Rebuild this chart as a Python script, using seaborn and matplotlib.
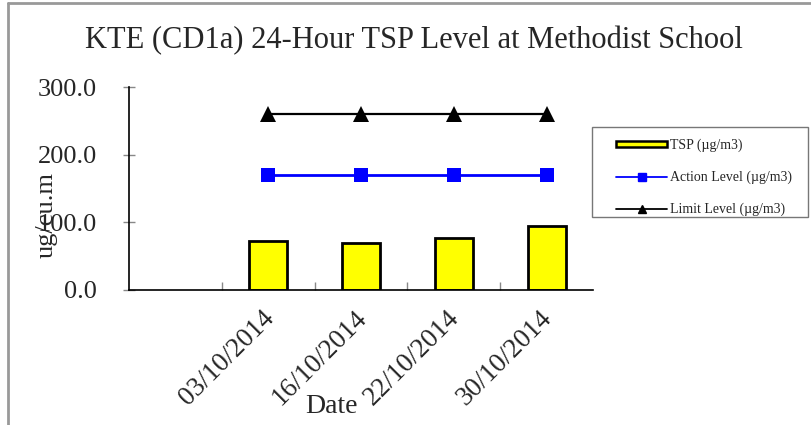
import numpy as np
import pandas as pd
import matplotlib.pyplot as plt
import matplotlib.lines as mlines
import matplotlib.patches as mpatches
import matplotlib.transforms as mtransforms
import seaborn as sns

plt.switch_backend("Agg")
sns.set_theme(style="white")
plt.rcParams["font.family"] = ["Liberation Serif", "DejaVu Serif"]

# data
dates = ["", "03/10/2014", "16/10/2014", "22/10/2014", "30/10/2014"]
tsp = [np.nan, 72.5, 70.0, 77.5, 94.5]
action_level = [np.nan, 170.3, 170.3, 170.3, 170.3]
limit_level = [np.nan, 260.0, 260.0, 260.0, 260.0]

df = pd.DataFrame({"Date": dates, "TSP": tsp,
                   "Action": action_level, "Limit": limit_level})
pos = np.arange(len(dates))

fig = plt.figure(figsize=(8.12, 4.25), dpi=100)
ax = fig.add_axes([129 / 812, 1 - 290 / 425, 464 / 812, 203 / 425])

sns.barplot(data=df, x="Date", y="TSP", order=dates, ax=ax, width=0.41,
            color="#ffff00", edgecolor="black", linewidth=2, saturation=1)
sns.lineplot(x=pos, y=df["Action"], ax=ax, color="#0000ff", marker="s",
             markersize=10, markeredgewidth=0, linewidth=2)
sns.lineplot(x=pos, y=df["Limit"], ax=ax, color="black", marker="^",
             markersize=11, markeredgewidth=0, linewidth=1.6)

ax.set_xlim(-0.5, len(dates) - 0.5)
ax.set_ylim(0, 300)
ax.set_yticks([0, 100, 200, 300])
ax.set_yticklabels(["0.0", "100.0", "200.0", "300.0"], fontsize=19)
ax.set_xticks(pos)
ax.set_xticklabels(dates, rotation=45, ha="right", va="top",
                   rotation_mode="anchor", fontsize=19.5)
ax.set_xticks(pos[:-1] + 0.5, minor=True)
ax.tick_params(axis="x", which="major", bottom=True, length=0, pad=11)
ax.tick_params(axis="x", which="minor", bottom=True, length=6,
               direction="in", color="#888888", width=1)
ax.tick_params(axis="y", left=True, length=8, direction="inout",
               color="#888888", width=1, pad=19)

# nudge the date labels a little to the left
shift = mtransforms.ScaledTranslation(-0.07, 0, fig.dpi_scale_trans)
for lab in ax.get_xticklabels():
    lab.set_transform(lab.get_transform() + shift)

for side in ["top", "right"]:
    ax.spines[side].set_visible(False)
ax.spines["left"].set_color("black")
ax.spines["bottom"].set_color("black")
ax.spines["left"].set_linewidth(1.2)
ax.spines["bottom"].set_linewidth(1.2)

ax.set_xlabel("Date", fontsize=20)
ax.xaxis.set_label_coords(0.437, -0.51)
ax.set_ylabel("ug/cu.m", fontsize=19)
ax.yaxis.set_label_coords(-0.153, 0.37)

fig.suptitle("KTE (CD1a) 24-Hour TSP Level at Methodist School",
             fontsize=22, x=0.51, y=0.94)

# legend box drawn separately so its padding can match
fig.add_artist(mpatches.Rectangle((592 / 812, 1 - 217 / 425), 216 / 812, 90 / 425,
                                  transform=fig.transFigure, facecolor="white",
                                  edgecolor="#777777", linewidth=1))
h_tsp = mpatches.Rectangle((0, 0), 1, 1, facecolor="#ffff00",
                           edgecolor="black", linewidth=1.8)
h_act = mlines.Line2D([], [], color="#0000ff", marker="s", markersize=6,
                      linewidth=1.3)
h_lim = mlines.Line2D([], [], color="black", marker="^", markersize=6,
                      linewidth=1.3)
leg = fig.legend([h_tsp, h_act, h_lim],
                 ["TSP (\u00b5g/m3)", "Action Level (\u00b5g/m3)",
                  "Limit Level (\u00b5g/m3)"],
                 loc="upper left", bbox_to_anchor=(616 / 812, 1 - 139 / 425),
                 borderaxespad=0, borderpad=0, fontsize=10, frameon=False,
                 handlelength=3.7, handleheight=0.3, labelspacing=1.33,
                 handletextpad=0.2)

# grey chart-area border on the left and top
fig.add_artist(mlines.Line2D([8 / 812, 8 / 812], [0, 1 - 3 / 425],
                             transform=fig.transFigure, color="#999999", lw=2))
fig.add_artist(mlines.Line2D([8 / 812, 1], [1 - 3 / 425, 1 - 3 / 425],
                             transform=fig.transFigure, color="#999999", lw=2))

fig.savefig("out.png", dpi=100)
